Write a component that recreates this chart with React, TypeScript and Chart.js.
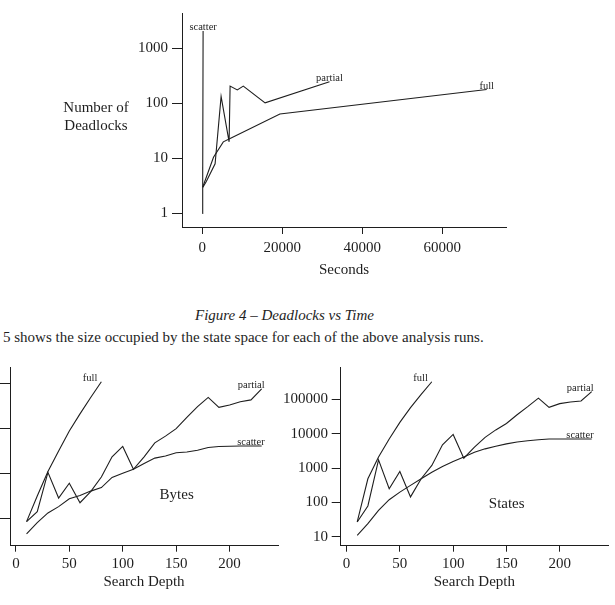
import React, { useEffect, useRef } from "react";
import { Chart, registerables } from "chart.js";

Chart.register(...registerables);

const SERIF = '"Liberation Serif", "Times New Roman", Times, serif';
const INK = "#1e1e1e";

// ---- Figure 4: deadlocks found against run time ----
const scatterSeconds = [10, 40, 70, 100, 130, 160, 200];
const scatterDeadlocks = [1, 7, 2, 6, 3, 4, 2050];
const partialSeconds = [150, 1000, 3200, 4700, 6700, 6950, 8750, 10250, 15700, 31800];
const partialDeadlocks = [3, 3.8, 8, 133, 20, 205, 175, 205, 102, 247];
const fullSeconds = [100, 2800, 5250, 6950, 19400, 71100];
const fullDeadlocks = [3, 10.5, 20, 23, 64, 178];
const secondsTicks = [0, 20000, 40000, 60000];
const deadlockTicks = [1, 10, 100, 1000];

// ---- Figure 5: state space size against search depth ----
const depthsLong = [10, 20, 30, 40, 50, 60, 70, 80, 90, 100, 110, 120, 130, 140, 150, 160, 170, 180, 190, 200, 210, 220, 230];
const depthsFull = [10, 20, 30, 40, 50, 60, 70, 80];
const depthTicks = [0, 50, 100, 150, 200];

const bytesFull = [8300, 31000, 110000, 316000, 890000, 2140000, 5000000, 11200000];
const bytesPartial = [8300, 13800, 105000, 28000, 60000, 22000, 39000, 83000, 234000, 400000, 123000, 234000, 480000, 680000, 1000000, 1780000, 3100000, 5000000, 3000000, 3400000, 4000000, 4400000, 7800000];
const bytesScatter = [4400, 7900, 13000, 18000, 27000, 32000, 40000, 48000, 81000, 100000, 123000, 166000, 219000, 245000, 290000, 300000, 330000, 380000, 400000, 405000, 410000, 410000, 410000];
const bytesTicks = [10000, 100000, 1000000, 10000000];

const statesFull = [27, 490, 2100, 7100, 21600, 58000, 142000, 330000];
const statesPartial = [27, 79, 1740, 250, 800, 145, 490, 1200, 4800, 9600, 1950, 4100, 7900, 13000, 20000, 36000, 62000, 110000, 59000, 76000, 85000, 91000, 170000];
const statesScatter = [11, 24, 59, 120, 200, 315, 490, 760, 1120, 1560, 2100, 2900, 3650, 4350, 5100, 5800, 6300, 6750, 7100, 7100, 7100, 7100, 7100];
const statesTicks = [10, 100, 1000, 10000, 100000];

type EndLabel = { dataset: number; text: string; align: CanvasTextAlign; dx: number; dy: number };
type FreeText = { text: string; x: number; y: number; size: number };

function series(label: string, xs: number[], ys: number[]) {
  return {
    label,
    data: xs.map((x, i) => ({ x, y: ys[i] })),
    borderColor: INK,
    borderWidth: 1.1,
    pointRadius: 0,
    tension: 0,
    fill: false,
  };
}

// Writes the curve names next to the last point of each line, plus any loose captions.
function textPlugin(endLabels: EndLabel[], freeTexts: FreeText[]) {
  return {
    id: "figureText",
    afterDraw(chart: any) {
      const ctx = chart.ctx as CanvasRenderingContext2D;
      ctx.save();
      ctx.fillStyle = INK;
      ctx.font = `10.5px ${SERIF}`;
      ctx.textBaseline = "alphabetic";
      for (const l of endLabels) {
        const pts = chart.getDatasetMeta(l.dataset).data;
        const last = pts[pts.length - 1];
        ctx.textAlign = l.align;
        ctx.fillText(l.text, last.x + l.dx, last.y + l.dy);
      }
      ctx.textBaseline = "middle";
      ctx.textAlign = "center";
      for (const t of freeTexts) {
        ctx.font = `${t.size}px ${SERIF}`;
        ctx.fillText(t.text, t.x, t.y);
      }
      ctx.restore();
    },
  };
}

type AxisSpec = {
  type: "linear" | "logarithmic";
  min: number;
  max: number;
  ticks: number[];
  tickLength: number;
  padding: number;
  showLabels: boolean;
  size: number;
  title?: string;
  titlePad?: number;
};

function axis(spec: AxisSpec, horizontal: boolean) {
  return {
    type: spec.type,
    min: spec.min,
    max: spec.max,
    afterBuildTicks: (s: any) => {
      s.ticks = spec.ticks.map((v) => ({ value: v }));
    },
    afterFit: (s: any) => {
      if (horizontal) s.height = spec.size;
      else s.width = spec.size;
    },
    border: { display: true, color: INK, width: 1 },
    grid: {
      display: true,
      drawOnChartArea: false,
      drawTicks: true,
      tickLength: spec.tickLength,
      color: INK,
      lineWidth: 1,
    },
    ticks: {
      display: spec.showLabels,
      padding: spec.padding,
      color: INK,
      font: { family: SERIF, size: 15 },
      maxRotation: 0,
      autoSkip: false,
      callback: (v: any) => String(v),
    },
    title: spec.title
      ? {
          display: true,
          text: spec.title,
          color: INK,
          font: { family: SERIF, size: 15 },
          padding: { top: 0, bottom: spec.titlePad ?? 0 },
        }
      : { display: false },
  };
}

type PanelProps = {
  left: number;
  top: number;
  width: number;
  height: number;
  datasets: any[];
  x: AxisSpec;
  y: AxisSpec;
  padTop: number;
  padRight: number;
  endLabels: EndLabel[];
  freeTexts: FreeText[];
};

function Panel(p: PanelProps) {
  const ref = useRef<HTMLCanvasElement | null>(null);
  useEffect(() => {
    if (!ref.current) return;
    const chart = new Chart(ref.current, {
      type: "line",
      data: { datasets: p.datasets },
      options: {
        animation: false,
        responsive: false,
        devicePixelRatio: 1,
        layout: { padding: { top: p.padTop, right: p.padRight, left: 0, bottom: 0 } },
        plugins: { legend: { display: false }, tooltip: { enabled: false } },
        scales: { x: axis(p.x, true) as any, y: axis(p.y, false) as any },
      },
      plugins: [textPlugin(p.endLabels, p.freeTexts)],
    });
    return () => chart.destroy();
  }, []);
  return (
    <canvas
      ref={ref}
      width={p.width}
      height={p.height}
      style={{ position: "absolute", left: p.left, top: p.top, width: p.width, height: p.height }}
    />
  );
}

const depthAxis = (): AxisSpec => ({
  type: "linear",
  min: -5.5,
  max: 245.3,
  ticks: depthTicks,
  tickLength: 6,
  padding: 3,
  showLabels: true,
  size: 59.3,
  title: "Search Depth",
  titlePad: 14.3,
});

export default function App() {
  return (
    <div
      style={{
        position: "absolute",
        left: 0,
        top: 0,
        width: 615,
        height: 605,
        background: "#ffffff",
        overflow: "hidden",
        fontFamily: SERIF,
        color: INK,
      }}
    >
      <Panel
        left={0}
        top={0}
        width={615}
        height={290}
        padTop={10}
        padRight={109}
        datasets={[
          series("scatter", scatterSeconds, scatterDeadlocks),
          series("partial", partialSeconds, partialDeadlocks),
          series("full", fullSeconds, fullDeadlocks),
        ]}
        x={{
          type: "linear",
          min: -5075,
          max: 75925,
          ticks: secondsTicks,
          tickLength: 7,
          padding: 5,
          showLabels: true,
          size: 63,
          title: "Seconds",
          titlePad: 11,
        }}
        y={{
          type: "logarithmic",
          min: 0.57,
          max: 4350,
          ticks: deadlockTicks,
          tickLength: 10,
          padding: 4,
          showLabels: true,
          size: 182,
        }}
        endLabels={[
          { dataset: 0, text: "scatter", align: "center", dx: 0, dy: -1 },
          { dataset: 1, text: "partial", align: "center", dx: 0, dy: -1 },
          { dataset: 2, text: "full", align: "center", dx: 0, dy: -1 },
        ]}
        freeTexts={[
          { text: "Number of", x: 96, y: 108, size: 15 },
          { text: "Deadlocks", x: 96, y: 126, size: 15 },
        ]}
      />

      <div
        style={{
          position: "absolute",
          left: 195,
          top: 306,
          fontStyle: "italic",
          fontSize: 15,
          lineHeight: "18px",
          whiteSpace: "nowrap",
        }}
      >
        Figure 4 – Deadlocks vs Time
      </div>
      <div
        style={{
          position: "absolute",
          left: 3,
          top: 328,
          fontSize: 15,
          lineHeight: "18px",
          whiteSpace: "nowrap",
        }}
      >
        5 shows the size occupied by the state space for each of the above analysis runs.
      </div>

      <Panel
        left={0}
        top={355}
        width={300}
        height={250}
        padTop={12}
        padRight={22}
        datasets={[
          series("full", depthsFull, bytesFull),
          series("partial", depthsLong, bytesPartial),
          series("scatter", depthsLong, bytesScatter),
        ]}
        x={depthAxis()}
        y={{
          type: "logarithmic",
          min: 2400,
          max: 24000000,
          ticks: bytesTicks,
          tickLength: 10,
          padding: 3,
          showLabels: false,
          size: 10,
        }}
        endLabels={[
          { dataset: 0, text: "full", align: "right", dx: -4, dy: -1 },
          { dataset: 1, text: "partial", align: "right", dx: 3, dy: -1 },
          { dataset: 2, text: "scatter", align: "right", dx: 3, dy: -1 },
        ]}
        freeTexts={[{ text: "Bytes", x: 176.7, y: 140, size: 15 }]}
      />

      <Panel
        left={270}
        top={355}
        width={345}
        height={250}
        padTop={11.7}
        padRight={7}
        datasets={[
          series("full", depthsFull, statesFull),
          series("partial", depthsLong, statesPartial),
          series("scatter", depthsLong, statesScatter),
        ]}
        x={depthAxis()}
        y={{
          type: "logarithmic",
          min: 5.48,
          max: 847000,
          ticks: statesTicks,
          tickLength: 9,
          padding: 3.7,
          showLabels: true,
          size: 70.7,
        }}
        endLabels={[
          { dataset: 0, text: "full", align: "right", dx: -4, dy: -1 },
          { dataset: 1, text: "partial", align: "right", dx: 2, dy: -1 },
          { dataset: 2, text: "scatter", align: "right", dx: 2, dy: -1 },
        ]}
        freeTexts={[{ text: "States", x: 236.7, y: 149, size: 15 }]}
      />
    </div>
  );
}
